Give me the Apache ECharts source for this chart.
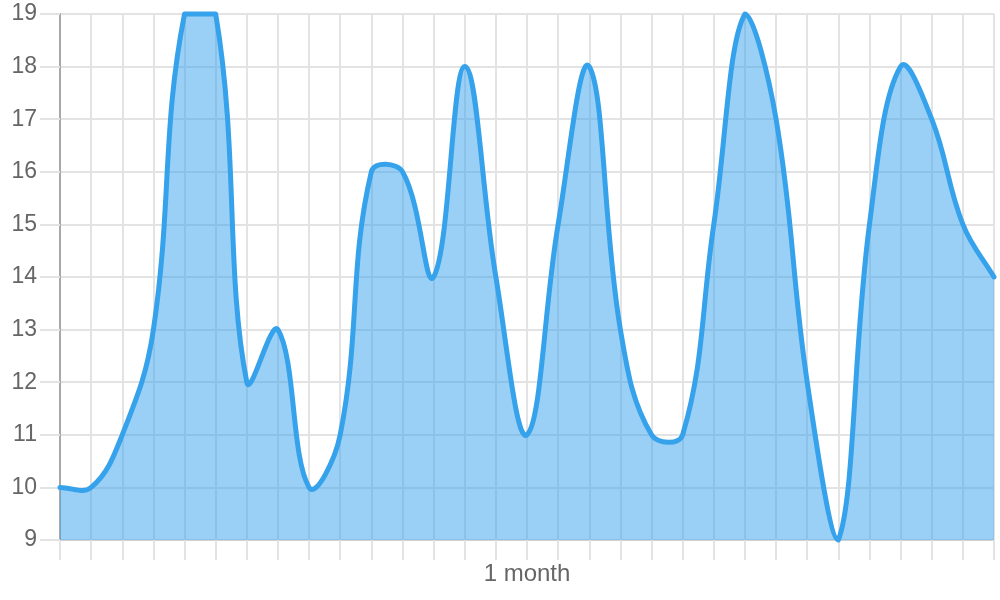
<!DOCTYPE html>
<html>
<head>
<meta charset="utf-8">
<script src="https://cdn.jsdelivr.net/npm/echarts@6/dist/echarts.min.js"></script>
<style>
  html, body { margin: 0; padding: 0; background: #fff; }
  #chart { width: 1000px; height: 600px; }
</style>
</head>
<body>
<div id="chart"></div>
<script>
// Daily values over one month (31 points)
const days = ['1','2','3','4','5','6','7','8','9','10','11','12','13','14','15','16','17','18','19','20','21','22','23','24','25','26','27','28','29','30','31'];
const values = [10, 10, 11, 13, 19, 19, 12, 13, 10, 11, 16, 16, 14, 18, 14, 11, 15, 18, 13, 11, 11, 15, 19, 17, 12, 9, 15, 18, 17, 15, 14];
const xAxisTitle = '1 month';
const yMin = 9, yMax = 19, yStep = 1;

const TENSION = 0.4;
const font = 'Liberation Sans, Arial, Helvetica, sans-serif';

function renderCurve(params, api) {
  if (params.dataIndex !== 0) return;
  const cs = params.coordSys;
  const left = cs.x, right = cs.x + cs.width, top = cs.y, bottom = cs.y + cs.height;
  const clamp = (v, a, b) => Math.max(a, Math.min(b, v));
  const pts = values.map((v, i) => api.coord([i, v]));
  const cps = pts.map((p, i) => {
    const prev = pts[i - 1] || p;
    const next = pts[i + 1] || p;
    const d01 = Math.hypot(p[0] - prev[0], p[1] - prev[1]);
    const d12 = Math.hypot(next[0] - p[0], next[1] - p[1]);
    let s01 = d01 / (d01 + d12), s12 = d12 / (d01 + d12);
    if (isNaN(s01)) s01 = 0;
    if (isNaN(s12)) s12 = 0;
    const fa = TENSION * s01, fb = TENSION * s12;
    const dx = next[0] - prev[0], dy = next[1] - prev[1];
    return {
      prev: [clamp(p[0] - fa * dx, left, right), clamp(p[1] - fa * dy, top, bottom)],
      next: [clamp(p[0] + fb * dx, left, right), clamp(p[1] + fb * dy, top, bottom)]
    };
  });
  let d = 'M' + pts[0][0] + ',' + pts[0][1];
  for (let i = 1; i < pts.length; i++) {
    const c1 = cps[i - 1].next, c2 = cps[i].prev, p = pts[i];
    d += ' C' + c1[0] + ',' + c1[1] + ' ' + c2[0] + ',' + c2[1] + ' ' + p[0] + ',' + p[1];
  }
  const base = api.coord([0, yMin])[1];
  const last = pts[pts.length - 1];
  const areaD = d + ' L' + last[0] + ',' + base + ' L' + pts[0][0] + ',' + base + ' Z';
  return {
    type: 'group',
    silent: true,
    children: [
      { type: 'path', shape: { pathData: areaD }, style: { fill: 'rgba(54,162,235,0.5)', stroke: null }, z2: 1 },
      { type: 'path', shape: { pathData: d }, style: { fill: null, stroke: '#36a2eb', lineWidth: 5, lineJoin: 'round', lineCap: 'round' }, z2: 2 }
    ]
  };
}

const chart = echarts.init(document.getElementById('chart'), null, { renderer: 'canvas' });
chart.setOption({
  animation: false,
  grid: { left: 60, right: 6, top: 14, bottom: 60, containLabel: false },
  xAxis: {
    type: 'category',
    data: days,
    boundaryGap: false,
    name: xAxisTitle,
    nameLocation: 'middle',
    nameGap: 22,
    nameTextStyle: { fontSize: 24, color: '#666', fontFamily: font },
    axisLine: { show: true, lineStyle: { color: '#cfcfcf', width: 1 } },
    axisTick: { show: true, interval: 0, length: 20, lineStyle: { color: '#e3e3e3', width: 2 } },
    axisLabel: { show: false },
    splitLine: { show: true, interval: 0, lineStyle: { color: '#e3e3e3', width: 2 } }
  },
  yAxis: {
    type: 'value',
    min: yMin,
    max: yMax,
    interval: yStep,
    axisLine: { show: true, lineStyle: { color: '#a8a8a8', width: 2 } },
    axisTick: { show: true, length: 20, lineStyle: { color: '#e3e3e3', width: 2 } },
    axisLabel: { margin: 23, fontSize: 23, color: '#666', fontFamily: font },
    splitLine: { show: true, lineStyle: { color: '#e3e3e3', width: 2 } }
  },
  series: [{
    type: 'custom',
    renderItem: renderCurve,
    data: values.map((v, i) => [i, v]),
    encode: { x: 0, y: 1 },
    clip: false,
    z: 3
  }]
});
</script>
</body>
</html>
